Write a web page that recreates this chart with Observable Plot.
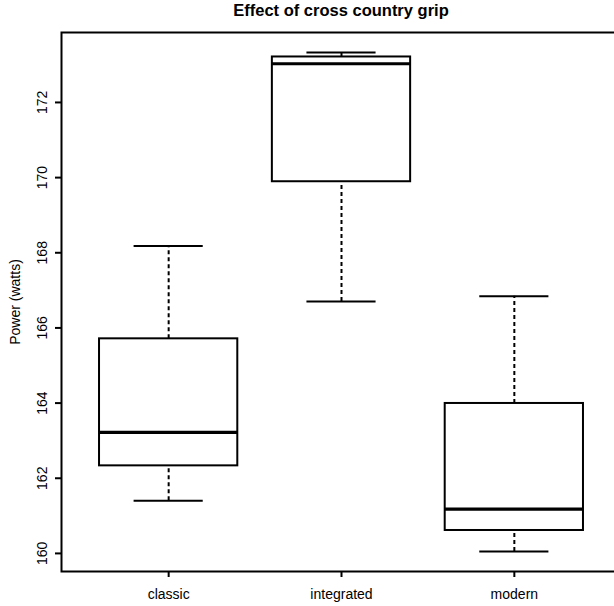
<!DOCTYPE html>
<html><head><meta charset="utf-8">
<script src="https://cdn.jsdelivr.net/npm/d3@7"></script>
<script src="https://cdn.jsdelivr.net/npm/@observablehq/plot@0.6"></script>
<style>
body{margin:0;background:#fff;overflow:hidden;font-family:"Liberation Sans",Arial,Helvetica,sans-serif;}
#wrap{position:relative;width:614px;height:606px;overflow:hidden;background:#fff;}
#title{position:absolute;left:61px;width:560px;top:0;height:21px;line-height:21px;text-align:center;font-weight:bold;font-size:16.5px;color:#000;}
#chart{position:absolute;left:0;top:22px;width:622px;}
#chart svg{max-width:none !important;}
</style></head><body>
<div id="wrap"><div id="title">Effect of cross country grip</div><div id="chart"></div></div>
<script>
const categories = ["classic", "integrated", "modern"];
const lowerWhisker = [161.40, 166.70, 160.05];
const q1 = [162.33, 169.89, 160.61];
const median = [163.22, 173.03, 161.18];
const q3 = [165.71, 173.21, 163.99];
const upperWhisker = [168.18, 173.33, 166.84];
const yTicks = [160, 162, 164, 166, 168, 170, 172];
const yLabel = "Power (watts)";

const data = categories.map((c, i) => ({
  cat: c, pos: i + 1,
  lo: lowerWhisker[i], q1: q1[i], med: median[i], q3: q3[i], hi: upperWhisker[i]
}));

// R-style axis extension (4%)
const yMin = d3.min(lowerWhisker), yMax = d3.max(upperWhisker);
const pad = (yMax - yMin) * 0.04;
const xPad = (categories.length) * 0.04;
const boxHalf = 0.4, capHalf = 0.2;

const chart = Plot.plot({
  width: 622,
  height: 584,
  marginLeft: 61,
  marginRight: 1,
  marginTop: 10,
  marginBottom: 35,
  style: {fontSize: "14px", fontFamily: "'Liberation Sans', Arial, Helvetica, sans-serif", color: "#000", background: "#fff", maxWidth: "none"},
  x: {domain: [0.5 - xPad, categories.length + 0.5 + xPad], axis: null},
  y: {domain: [yMin - pad, yMax + pad], axis: null},
  marks: [
    // whiskers (dashed)
    Plot.ruleX(data, {x: "pos", y1: "q3", y2: "hi", stroke: "black", strokeWidth: 2, strokeDasharray: "4,3"}),
    Plot.ruleX(data, {x: "pos", y1: "lo", y2: "q1", stroke: "black", strokeWidth: 2, strokeDasharray: "4,3"}),
    // staples
    Plot.ruleY(data, {y: "hi", x1: d => d.pos - capHalf, x2: d => d.pos + capHalf, stroke: "black", strokeWidth: 2}),
    Plot.ruleY(data, {y: "lo", x1: d => d.pos - capHalf, x2: d => d.pos + capHalf, stroke: "black", strokeWidth: 2}),
    // boxes
    Plot.rect(data, {x1: d => d.pos - boxHalf, x2: d => d.pos + boxHalf, y1: "q1", y2: "q3", fill: "white", stroke: "black", strokeWidth: 2}),
    // medians
    Plot.ruleY(data, {y: "med", x1: d => d.pos - boxHalf, x2: d => d.pos + boxHalf, stroke: "black", strokeWidth: 3.2}),
    // frame
    Plot.frame({stroke: "black", strokeWidth: 2}),
    // y axis ticks & labels
    Plot.axisY({ticks: yTicks, tickSize: 6, tickFormat: () => "", label: null, strokeWidth: 2}),
    Plot.text(yTicks, {y: d => d, text: d => String(d), frameAnchor: "left", textAnchor: "middle", dx: -19, rotate: -90, fill: "black", fontSize: 14}),
    // x axis ticks & labels
    Plot.axisX({ticks: data.map(d => d.pos), tickSize: 6, tickPadding: 12, tickFormat: p => categories[p - 1], label: null, strokeWidth: 2, fontSize: 14}),
    // y axis title
    Plot.text([yLabel], {text: d => d, frameAnchor: "left", textAnchor: "middle", dx: -46, rotate: -90, fill: "black", fontSize: 14})
  ]
});
document.getElementById("chart").appendChild(chart);
</script>
</body></html>
